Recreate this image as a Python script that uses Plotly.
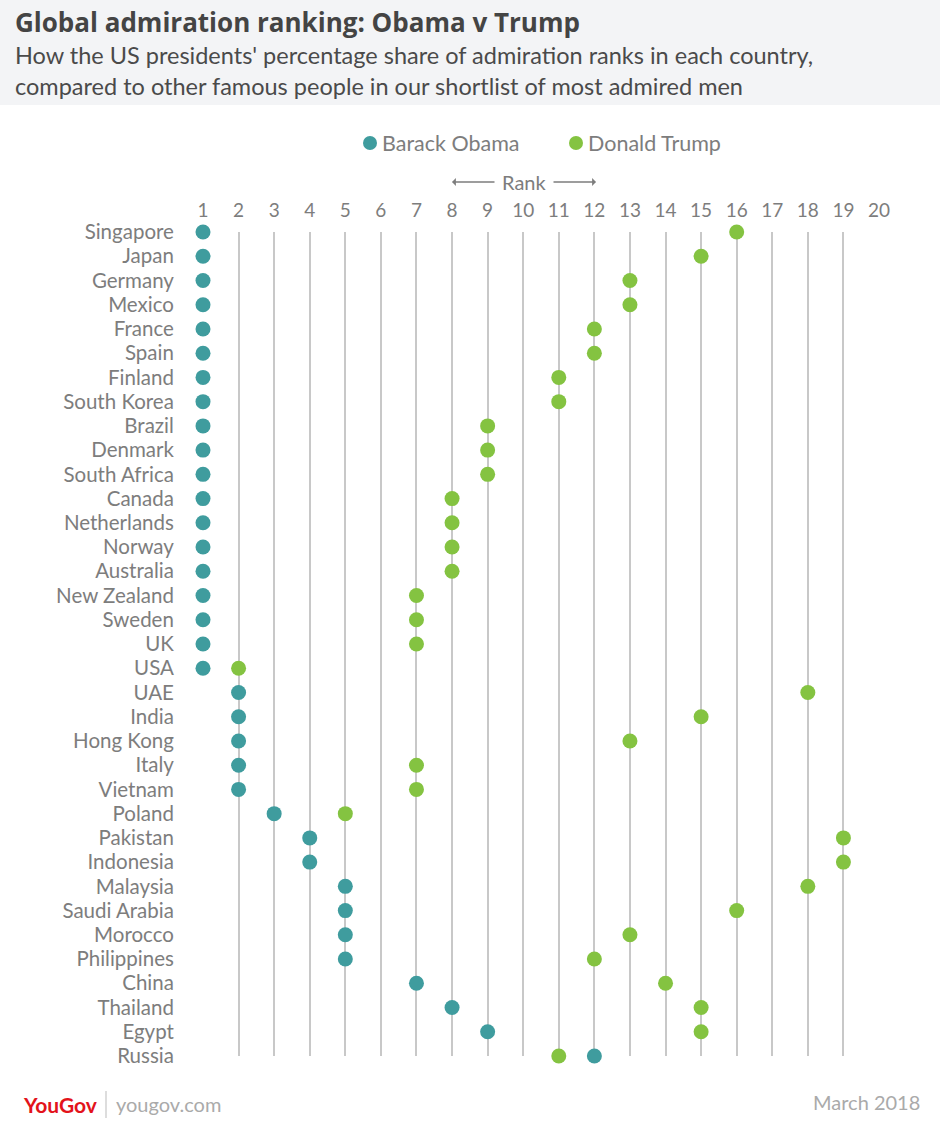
import plotly.graph_objects as go

countries = ["Singapore", "Japan", "Germany", "Mexico", "France", "Spain", "Finland",
             "South Korea", "Brazil", "Denmark", "South Africa", "Canada", "Netherlands",
             "Norway", "Australia", "New Zealand", "Sweden", "UK", "USA", "UAE", "India",
             "Hong Kong", "Italy", "Vietnam", "Poland", "Pakistan", "Indonesia", "Malaysia",
             "Saudi Arabia", "Morocco", "Philippines", "China", "Thailand", "Egypt", "Russia"]
obama_rank = [1, 1, 1, 1, 1, 1, 1, 1, 1, 1, 1, 1, 1, 1, 1, 1, 1, 1, 1, 2, 2, 2, 2, 2,
              3, 4, 4, 5, 5, 5, 5, 7, 8, 9, 12]
trump_rank = [16, 15, 13, 13, 12, 12, 11, 11, 9, 9, 9, 8, 8, 8, 8, 7, 7, 7, 2, 18, 15,
              13, 7, 7, 5, 19, 19, 18, 16, 13, 12, 14, 15, 15, 11]
rank_ticks = list(range(1, 21))
series_names = ["Barack Obama", "Donald Trump"]

OBAMA = "#3f9c9e"
TRUMP = "#84c341"
GREY = "#7d7d7d"
FONT = "Lato"

W, H = 940, 1132
L, R, T, B = 203, 61, 232, 76
PH = H - T - B


def py(px):
    # pixel y (from top) to paper coordinate
    return 1 + (T - px) / PH


def px_x(px):
    return (px - L) / (W - L - R)


rows = list(range(len(countries)))

fig = go.Figure()
fig.add_trace(go.Scatter(x=trump_rank, y=rows, mode="markers", name=series_names[1],
                         marker=dict(color=TRUMP, size=15), cliponaxis=False, showlegend=False))
fig.add_trace(go.Scatter(x=obama_rank, y=rows, mode="markers", name=series_names[0],
                         marker=dict(color=OBAMA, size=15), cliponaxis=False, showlegend=False))

shapes = [dict(type="rect", xref="paper", yref="paper", x0=px_x(0), x1=px_x(W),
               y0=py(105), y1=py(0), fillcolor="#f3f4f6", line=dict(width=0), layer="below")]

# custom legend: dots + labels
for name, col, cx in [(series_names[0], OBAMA, 370), (series_names[1], TRUMP, 576)]:
    shapes.append(dict(type="circle", xref="paper", yref="paper", xsizemode="pixel",
                       ysizemode="pixel", xanchor=px_x(cx), yanchor=py(143),
                       x0=-7, x1=7, y0=-7, y1=7, fillcolor=col, line=dict(width=0)))

annotations = [
    dict(text="<b>Global admiration ranking: Obama v Trump</b>", x=px_x(13), y=py(22),
         xref="paper", yref="paper", xanchor="left", yanchor="middle", showarrow=False,
         font=dict(family="Open Sans", size=26, color="#444444")),
    dict(text="How the US presidents' percentage share of admiration ranks in each country,<br>"
              "compared to other famous people in our shortlist of most admired men",
         x=px_x(13), y=py(71), xref="paper", yref="paper", xanchor="left", yanchor="middle",
         showarrow=False, align="left",
         font=dict(family=FONT, size=23.5, color="#4a4a4a")),
    dict(text=series_names[0], x=px_x(380), y=py(143), xref="paper", yref="paper",
         xanchor="left", yanchor="middle", showarrow=False,
         font=dict(family=FONT, size=21.5, color=GREY)),
    dict(text=series_names[1], x=px_x(586), y=py(143), xref="paper", yref="paper",
         xanchor="left", yanchor="middle", showarrow=False,
         font=dict(family=FONT, size=21.5, color=GREY)),
    dict(text="Rank", x=px_x(524), y=py(182), xref="paper", yref="paper", showarrow=False,
         xanchor="center", yanchor="middle", font=dict(family=FONT, size=20, color=GREY)),
    dict(text="", x=px_x(452), y=py(182), ax=44, ay=0, xref="paper", yref="paper",
         axref="pixel", ayref="pixel", showarrow=True, arrowhead=1, arrowsize=1, arrowwidth=1.3,
         arrowcolor=GREY),
    dict(text="", x=px_x(596), y=py(182), ax=-44, ay=0, xref="paper", yref="paper",
         axref="pixel", ayref="pixel", showarrow=True, arrowhead=1, arrowsize=1, arrowwidth=1.3,
         arrowcolor=GREY),
    dict(text="<b>YouGov</b>", x=px_x(21), y=py(1104),
         xref="paper", yref="paper", xanchor="left", yanchor="middle", showarrow=False,
         font=dict(family=FONT, size=21, color="#e3131b")),
    dict(text="yougov.com", x=px_x(114), y=py(1104), xref="paper", yref="paper",
         xanchor="left", yanchor="middle", showarrow=False,
         font=dict(family=FONT, size=20, color="#aaaaaa")),
    dict(text="March 2018", x=px_x(922), y=py(1102), xref="paper", yref="paper",
         xanchor="right", yanchor="middle", showarrow=False,
         font=dict(family=FONT, size=20, color="#aaaaaa")),
]
shapes.append(dict(type="line", xref="paper", yref="paper", x0=px_x(106), x1=px_x(106),
                   y0=py(1091), y1=py(1118), line=dict(color="#bbbbbb", width=1)))

fig.update_layout(
    width=W, height=H,
    margin=dict(l=L, r=R, t=T, b=B),
    paper_bgcolor="white", plot_bgcolor="white",
    font=dict(family=FONT, color=GREY, size=18),
    shapes=shapes, annotations=annotations,
    showlegend=False,
    xaxis=dict(range=[1, 20], side="top", tickvals=rank_ticks, ticktext=[str(v) for v in rank_ticks],
               showgrid=True, gridcolor="#c8c8c8", gridwidth=2, zeroline=False, showline=False,
               ticks="outside", ticklen=6, tickcolor="rgba(0,0,0,0)",
               tickfont=dict(family=FONT, size=19, color=GREY), fixedrange=True),
    yaxis=dict(range=[len(countries) - 1, 0], tickvals=rows, ticktext=countries,
               showgrid=False, zeroline=False, showline=False,
               ticks="outside", ticklen=24, tickcolor="rgba(0,0,0,0)",
               tickfont=dict(family=FONT, size=20.5, color=GREY), fixedrange=True),
)

fig.write_html("out.html", config={"displayModeBar": False},
               post_script="document.body.style.margin='0px';")
